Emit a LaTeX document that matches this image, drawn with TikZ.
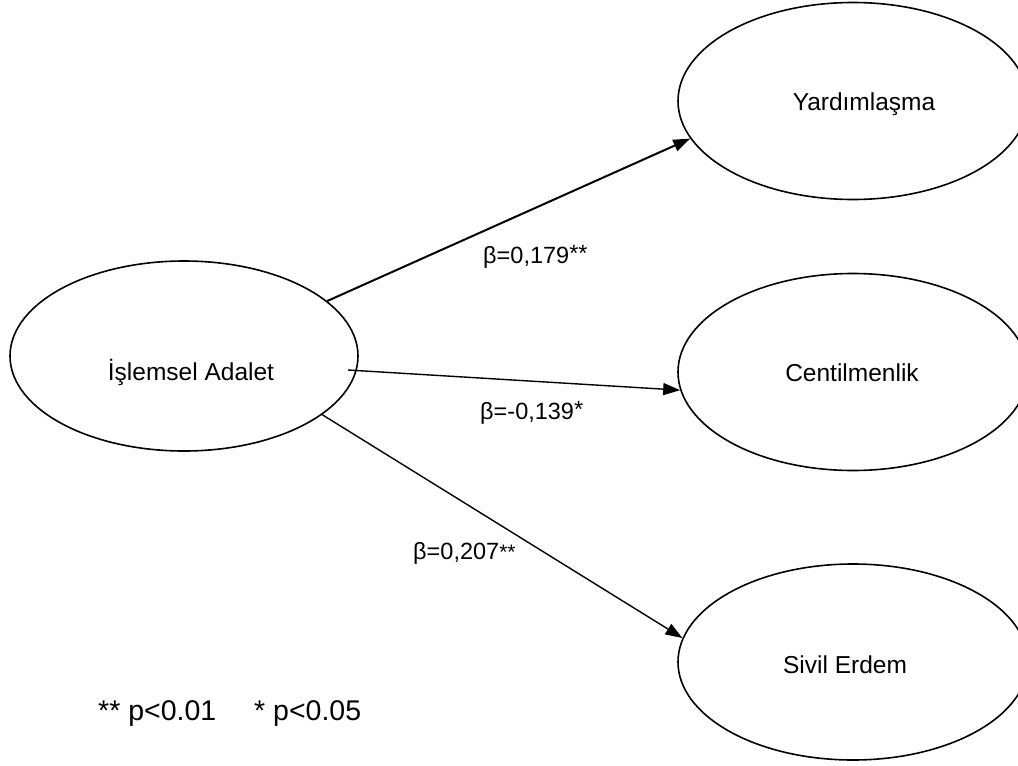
\documentclass[tikz,border=0pt]{standalone}
\usepackage{fontspec}
\setmainfont{Liberation Sans}
\usetikzlibrary{arrows.meta,shapes.geometric}
\begin{document}
\begin{tikzpicture}[x=1pt,y=-1pt,
 ell/.style={draw,ellipse,line width=1.6pt,inner sep=0pt},
 txt/.style={font=\fontsize{24.5}{28}\selectfont,inner sep=0pt},
 conn/.style={line width=1.4pt,-{Triangle[length=17pt,width=12pt]}},
 lbl/.style={font=\fontsize{23.5}{28}\selectfont,inner sep=0pt},
 note/.style={font=\fontsize{28.5}{32}\selectfont,inner sep=0pt}]
\useasboundingbox (0,0) rectangle (1018,766);
\node[ell,minimum width=348pt,minimum height=190pt] (L) at (184,356) {};
\node[ell,minimum width=350pt,minimum height=197pt] (Y) at (853,101) {};
\node[ell,minimum width=350pt,minimum height=197pt] (C) at (853,372) {};
\node[ell,minimum width=350pt,minimum height=196pt] (S) at (853,662) {};
\node[txt] (Lt) at (191,372) {İşlemsel Adalet};
\node[txt] (Yt) at (864,104) {Yardımlaşma};
\node[txt] (Ct) at (852,373) {Centilmenlik};
\node[txt] (St) at (845,665) {Sivil Erdem};
\coordinate (s2) at ([shift={(164,14)}]L.center);
\draw[conn,line width=2pt] (L.21) -- (Y.193.7);
\draw[conn] (s2) -- (C.186.9);
\draw[conn] (L.-23) -- (S.172.5);
\node[lbl,anchor=west] (b1) at (483,257) {β=0,179\raisebox{2pt}{**}};
\node[lbl,anchor=west] (b2) at (480,413) {β=-0,139\raisebox{2pt}{*}};
\node[lbl,anchor=west] (b3) at (413,553) {β=0,207{\fontsize{21}{21}\selectfont **}};
\node[note,anchor=west] (fn) at (98,713) {** p<0.01\hspace{38pt}* p<0.05};
\end{tikzpicture}
\end{document}
